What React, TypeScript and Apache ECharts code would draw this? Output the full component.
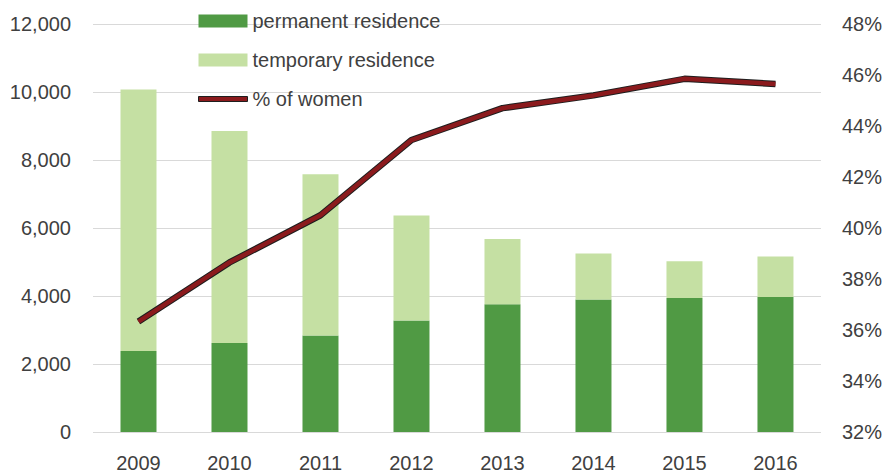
import React, { useEffect, useRef } from "react";
import * as echarts from "echarts";

const years = ["2009", "2010", "2011", "2012", "2013", "2014", "2015", "2016"];
const permanent = [2380, 2620, 2840, 3280, 3760, 3900, 3940, 3970];
const temporary = [7690, 6230, 4740, 3085, 1920, 1350, 1085, 1190];
const womenPct = [36.33, 38.65, 40.5, 43.45, 44.7, 45.2, 45.85, 45.65];

const FONT = "Liberation Sans";
const TEXT = "#404040";

export default function App() {
  const ref = useRef<HTMLDivElement>(null);
  useEffect(() => {
    if (!ref.current) return;
    const chart = echarts.init(ref.current, null, { renderer: "svg" });
    chart.setOption({
      animation: false,
      backgroundColor: "#ffffff",
      textStyle: { fontFamily: FONT },
      grid: { left: 93, right: 63, top: 24, bottom: 42, containLabel: false },
      legend: {
        orient: "vertical",
        left: 193,
        top: 6,
        itemWidth: 49,
        itemHeight: 13,
        itemGap: 19,
        data: [
          { name: "permanent residence", icon: "rect" },
          { name: "temporary residence", icon: "rect" },
          {
            name: "% of women",
            icon: "path://M0,0 L98,0 L98,10 L0,10 Z",
            itemStyle: { color: "#8B1A1D", borderColor: "#1E1E1E", borderWidth: 1 },
          },
        ],
        textStyle: { fontFamily: FONT, fontSize: 20, color: TEXT, lineHeight: 20 },
      },
      xAxis: {
        type: "category",
        data: years,
        axisLine: { show: false },
        axisTick: { show: false },
        axisLabel: { fontFamily: FONT, fontSize: 20, color: TEXT, margin: 21 },
      },
      yAxis: [
        {
          type: "value",
          min: 0,
          max: 12000,
          interval: 2000,
          axisLine: { show: false },
          axisTick: { show: false },
          splitLine: { lineStyle: { color: "#D9D9D9", width: 1 } },
          axisLabel: {
            fontFamily: FONT,
            fontSize: 20,
            color: TEXT,
            margin: 22,
            formatter: (v: number) => v.toLocaleString("en-US"),
          },
        },
        {
          type: "value",
          min: 32,
          max: 48,
          interval: 2,
          position: "right",
          axisLine: { show: false },
          axisTick: { show: false },
          splitLine: { show: false },
          axisLabel: { fontFamily: FONT, fontSize: 20, color: TEXT, margin: 21, formatter: "{value}%" },
        },
      ],
      series: [
        {
          name: "permanent residence",
          type: "bar",
          stack: "total",
          barWidth: 36,
          data: permanent,
          itemStyle: { color: "#509A44" },
        },
        {
          name: "temporary residence",
          type: "bar",
          stack: "total",
          barWidth: 36,
          data: temporary,
          itemStyle: { color: "#C5E0A3" },
        },
        {
          name: "outline",
          type: "line",
          yAxisIndex: 1,
          data: womenPct,
          symbol: "none",
          lineStyle: { color: "#1E1E1E", width: 6.5 },
          silent: true,
        },
        {
          name: "% of women",
          type: "line",
          yAxisIndex: 1,
          data: womenPct,
          symbol: "none",
          itemStyle: { color: "#8B1A1D" },
          lineStyle: { color: "#8B1A1D", width: 4.5 },
        },
      ],
    });
    return () => chart.dispose();
  }, []);
  return (
    <div
      ref={ref}
      style={{ position: "fixed", left: 0, top: 0, width: 885, height: 474 }}
    />
  );
}
